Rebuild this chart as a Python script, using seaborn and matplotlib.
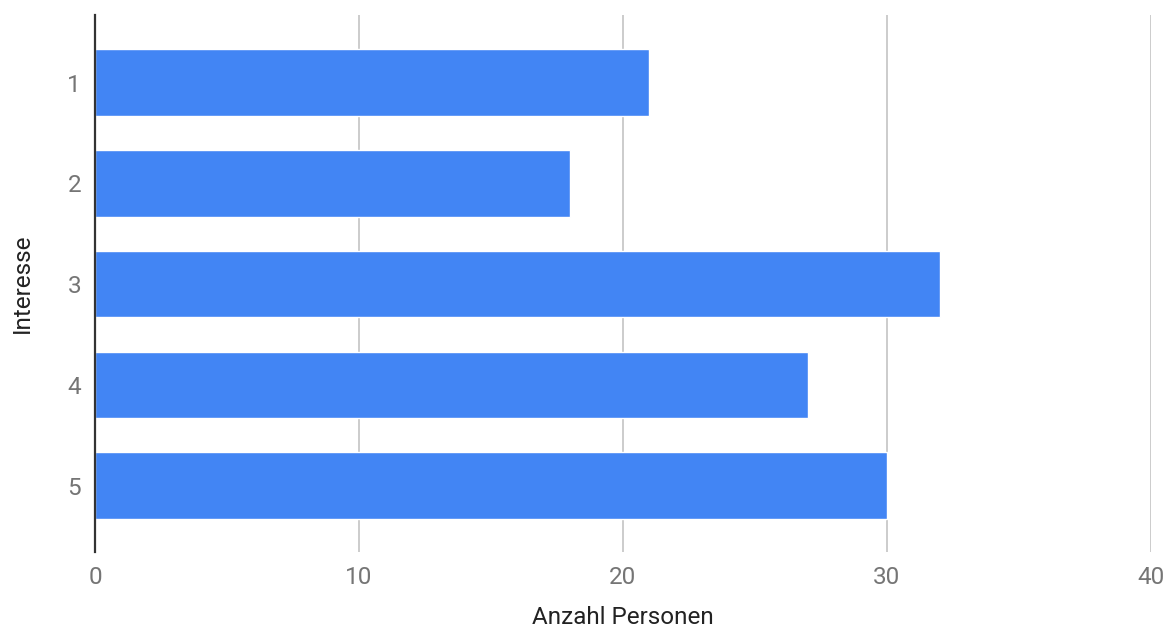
import matplotlib
matplotlib.use("Agg")
import matplotlib.pyplot as plt
import seaborn as sns
import pandas as pd

# Interest level and the number of people who chose it
interesse = ["1", "2", "3", "4", "5"]
anzahl = [21, 18, 32, 27, 30]
x_ticks = [0, 10, 20, 30, 40]

df = pd.DataFrame({"Interesse": interesse, "Anzahl Personen": anzahl})

sns.set_theme(style="white")
plt.rcParams["font.family"] = ["Roboto", "DejaVu Sans"]

fig = plt.figure(figsize=(11.74, 6.31), dpi=100)
ax = fig.add_axes([0.0809, 0.1252, 0.8995, 0.851])

sns.barplot(data=df, x="Anzahl Personen", y="Interesse", order=interesse,
            color="#4285F4", saturation=1, width=0.66, ax=ax, orient="h")

ax.set_xlim(0, 40)
ax.set_ylim(4.66, -0.67)
ax.set_xticks(x_ticks)
ax.set_xticklabels([str(t) for t in x_ticks])

ax.grid(axis="x", color="#cccccc", linewidth=1.4)
ax.set_axisbelow(True)
for s in ["top", "right", "bottom"]:
    ax.spines[s].set_visible(False)
ax.spines["left"].set_color("#333333")
ax.spines["left"].set_linewidth(1.6)
ax.spines["left"].set_zorder(5)

ax.tick_params(axis="both", length=0, labelsize=17.5, labelcolor="#757575")
ax.tick_params(axis="x", pad=10)
ax.tick_params(axis="y", pad=10)

ax.set_xlabel("Anzahl Personen", fontsize=17.5, color="#222222", labelpad=12)
ax.set_ylabel("Interesse", fontsize=17.5, color="#222222")
ax.yaxis.set_label_coords(-0.058, 0.5)

fig.savefig("out.png", dpi=100)
